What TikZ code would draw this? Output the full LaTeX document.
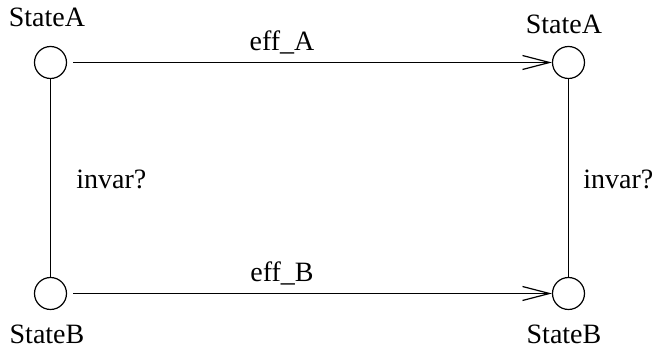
\documentclass[tikz,border=0pt]{standalone}
\usepackage{fontspec}
\setmainfont{Liberation Serif}
\usetikzlibrary{arrows.meta}
\begin{document}
\begin{tikzpicture}[x=0.5pt,y=-0.5pt,
  state/.style={circle,draw,line width=0.6pt,minimum size=16pt,inner sep=0pt},
  lbl/.style={font=\fontsize{14}{16}\selectfont,inner sep=0pt},
  edge/.style={line width=0.55pt},
  trans/.style={edge,-{Straight Barb[length=13.5pt,width=7pt,line width=0.6pt]},shorten <=3pt}]
\useasboundingbox (0,0) rectangle (655,352);
% states
\node[state] (a1) at (50.5,62.5) {};
\node[state] (a2) at (568.5,62.5) {};
\node[state] (b1) at (50.5,293.5) {};
\node[state] (b2) at (568.5,293.5) {};
% state names
\node[lbl,anchor=base] (na1) at (47,27) {StateA};
\node[lbl,anchor=base] (na2) at (564,34) {StateA};
\node[lbl,anchor=base] (nb1) at (47,344) {StateB};
\node[lbl,anchor=base] (nb2) at (564,344) {StateB};
% transitions
\draw[trans] (a1) -- (a2);
\draw[trans] (b1) -- (b2);
\node[lbl,anchor=base] (ea) at (282,51) {eff\_A};
\node[lbl,anchor=base] (eb) at (282,282) {eff\_B};
% invariant links
\draw[edge] (a1) -- (b1);
\draw[edge] (a2) -- (b2);
\node[lbl,anchor=base west] (ia) at (76,189) {invar?};
\node[lbl,anchor=base west] (ib) at (583,189) {invar?};
\end{tikzpicture}
\end{document}
